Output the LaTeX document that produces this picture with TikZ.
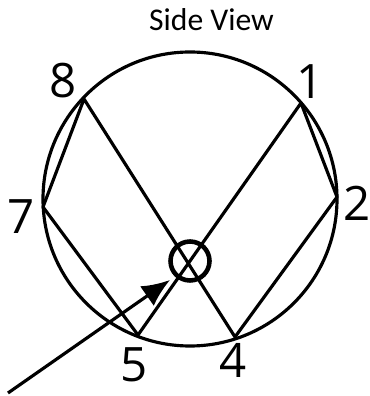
\documentclass[tikz,border=0pt]{standalone}
\usepackage{fontspec}
\setmainfont{Open Sans}
\newfontfamily\titlefont{Carlito}
\usetikzlibrary{arrows.meta, positioning}

\tikzset{
  wire/.style={line width=1.8pt, line cap=round, line join=round},
  num/.style={font=\fontsize{27}{27}\selectfont, inner sep=0pt}
}

\begin{document}
\begin{tikzpicture}
\useasboundingbox (0,0) rectangle (7.4,7.92);

\node[inner sep=0pt, font=\titlefont\fontsize{18}{18}\selectfont] (title) at (4.23,7.52) {Side View};

\node[draw, wire, circle, minimum size=5.88cm, inner sep=0pt] (rim) at (3.8,3.94) {};
\node[draw, line width=2.6pt, circle, minimum size=0.78cm, inner sep=0pt] (hub) at (3.8,2.7) {};

\coordinate (p1) at (6.02,5.86);
\coordinate (p2) at (6.74,3.98);
\coordinate (p4) at (4.7,1.18);
\coordinate (p5) at (2.76,1.22);
\coordinate (p7) at (0.86,3.78);
\coordinate (p8) at (1.68,5.94);

\draw[wire] (p1) -- (p2) -- (p4) -- (p8) -- (p7) -- (p5) -- (p1);

\node[num] (n1) at (6.2,6.28) {1};
\node[num] (n2) at (7.14,3.86) {2};
\node[num] (n4) at (4.66,0.72) {4};
\node[num] (n5) at (2.69,0.62) {5};
\node[num] (n7) at (0.42,3.58) {7};
\node[num] (n8) at (1.27,6.3) {8};

\coordinate (tail) at (0.16,0.06);
\coordinate (tip) at (3.4,2.32);
\draw[-{Latex[length=0.56cm,width=0.48cm]}, line width=1.8pt] (tail) -- (tip);

\end{tikzpicture}
\end{document}
